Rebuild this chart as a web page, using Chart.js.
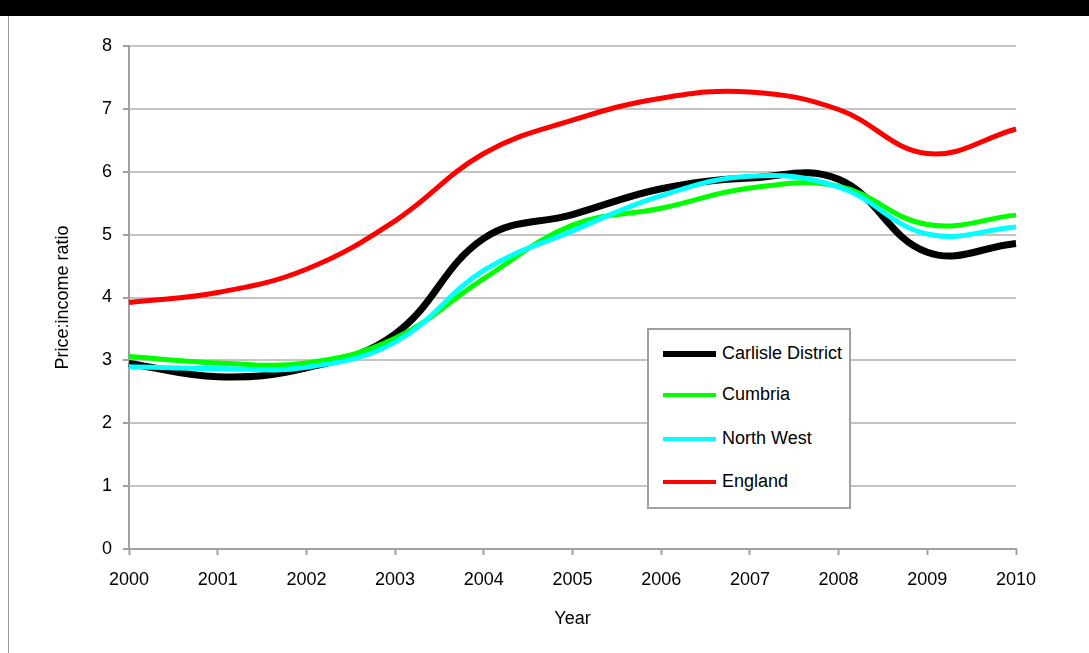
<!DOCTYPE html>
<html>
<head>
<meta charset="utf-8">
<script src="https://cdn.jsdelivr.net/npm/chart.js@4.4.0/dist/chart.umd.min.js"></script>
<style>
	body { margin: 0; background: #fff; width: 1089px; height: 653px; overflow: hidden; position: relative; font-family: "Liberation Sans", Arial, sans-serif; }
	#topbar { position: absolute; left: 0; top: 0; width: 1089px; height: 16px; background: #000; }
	#leftrule { position: absolute; left: 8px; top: 16px; width: 1px; height: 637px; background: #999; }
	#wrap { position: absolute; left: 0; top: 16px; width: 1089px; height: 637px; }
	#legend { position: absolute; left: 647px; top: 328px; width: 200px; height: 177px; border: 2px solid #a0a0a0; background: #fff; box-sizing: content-box; }
	#legend .item { position: absolute; left: 14px; height: 24px; font-size: 18px; line-height: 24px; color: #000; white-space: nowrap; }
	#legend .swatch { display: inline-block; width: 53px; vertical-align: middle; margin-right: 6px; }
</style>
</head>
<body>
<div id="topbar"></div>
<div id="leftrule"></div>
<div id="wrap"><canvas id="chart" width="1089" height="637"></canvas></div>
<div id="legend"></div>
<script>
// Categories
const years = [ '2000', '2001', '2002', '2003', '2004', '2005', '2006', '2007', '2008', '2009', '2010' ];

// Series values (price:income ratio)
const carlisle = [ 2.95, 2.74, 2.88, 3.42, 4.94, 5.32, 5.73, 5.90, 5.88, 4.72, 4.86 ];
const cumbria = [ 3.06, 2.96, 2.96, 3.35, 4.30, 5.15, 5.42, 5.74, 5.77, 5.16, 5.31 ];
const northWest = [ 2.90, 2.87, 2.89, 3.29, 4.43, 5.06, 5.62, 5.93, 5.76, 5.01, 5.12 ];
const england = [ 3.92, 4.08, 4.45, 5.22, 6.29, 6.82, 7.17, 7.27, 6.99, 6.29, 6.68 ];

const seriesNames = [ 'Carlisle District', 'Cumbria', 'North West', 'England' ];
const seriesData = [ carlisle, cumbria, northWest, england ];
const seriesColors = [ '#000000', '#00ff00', '#00ffff', '#ff0000' ];
const seriesWidths = [ 7, 5, 5, 5 ];

const FONT = '"Liberation Sans", Arial, sans-serif';
const FONT_SIZE = 18;

const datasets = seriesNames.map( function ( name, i ) {
	return {
		label: name,
		data: seriesData[ i ],
		borderColor: seriesColors[ i ],
		backgroundColor: seriesColors[ i ],
		borderWidth: seriesWidths[ i ],
		pointRadius: 0,
		tension: 0.4,
		fill: false,
		// excel draws later series on top
		order: seriesNames.length - i
	};
} );

new Chart( document.getElementById( 'chart' ).getContext( '2d' ), {
	type: 'line',
	data: { labels: years, datasets: datasets },
	options: {
		responsive: false,
		animation: false,
		layout: { padding: { top: 30, right: 73, left: 0, bottom: 0 } },
		plugins: {
			legend: { display: false },
			tooltip: { enabled: false }
		},
		scales: {
			x: {
				offset: false,
				afterFit: function ( scale ) { scale.height = 104; },
				grid: { drawOnChartArea: false, drawTicks: true, tickLength: 6, tickColor: '#a0a0a0', tickWidth: 2 },
				border: { color: '#a0a0a0', width: 2 },
				ticks: { color: '#000', font: { family: FONT, size: FONT_SIZE }, padding: 14, maxRotation: 0, autoSkip: false },
				title: { display: true, text: 'Year', color: '#000', font: { family: FONT, size: FONT_SIZE }, padding: { top: 0, bottom: 23 } }
			},
			y: {
				min: 0,
				max: 8,
				afterFit: function ( scale ) { scale.width = 129; },
				grid: { color: '#c4c4c4', lineWidth: 2, tickLength: 6, tickColor: '#a0a0a0', tickWidth: 2 },
				border: { color: '#a0a0a0', width: 2 },
				ticks: { stepSize: 1, color: '#000', font: { family: FONT, size: FONT_SIZE }, padding: 11 },
				title: { display: true, text: 'Price:income ratio', color: '#000', font: { family: FONT, size: FONT_SIZE }, padding: { top: 52, bottom: 0 } }
			}
		}
	}
} );

// Legend box inside the plot, built from the series arrays
const legendEl = document.getElementById( 'legend' );
const rowTops = [ 11, 52, 96, 139 ];
seriesNames.forEach( function ( name, i ) {
	const item = document.createElement( 'div' );
	item.className = 'item';
	item.style.top = rowTops[ i ] + 'px';
	const sw = document.createElement( 'span' );
	sw.className = 'swatch';
	sw.style.height = ( i === 0 ? 6 : 4 ) + 'px';
	sw.style.background = seriesColors[ i ];
	item.appendChild( sw );
	item.appendChild( document.createTextNode( name ) );
	legendEl.appendChild( item );
} );
</script>
</body>
</html>
